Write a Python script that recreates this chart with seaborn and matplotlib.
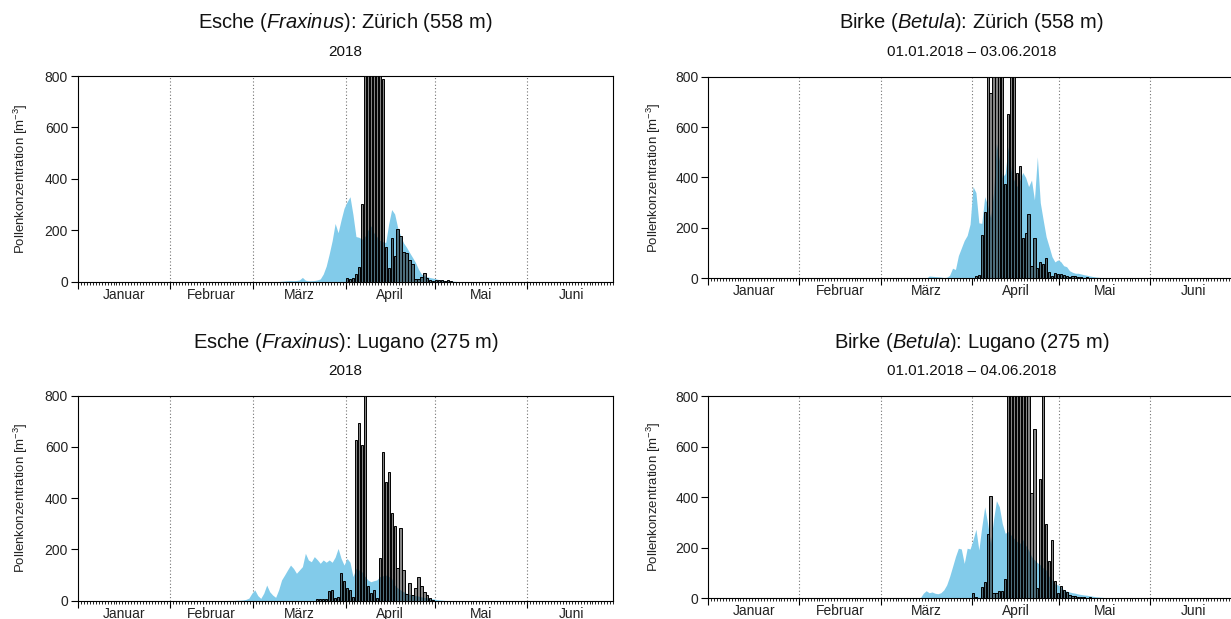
import numpy as np
import pandas as pd
import matplotlib
matplotlib.use('Agg')
import matplotlib.pyplot as plt
from matplotlib.ticker import FixedLocator, MultipleLocator, NullFormatter
import seaborn as sns

# Kalender Januar bis Juni 2018 (Tag 0 = 1. Januar)
months = ['Januar', 'Februar', 'März', 'April', 'Mai', 'Juni']
month_start = [0, 31, 59, 90, 120, 151]
month_len = [31, 28, 31, 30, 31, 30]
n_days = 180

# Esche Zürich: Messung (Balken) und Modell (blaue Fläche), Werte ab Starttag
esche_zh_obs_start = 90
esche_zh_obs = [13, 9, 13, 29, 55, 300, 1000, 1000, 1000, 1000, 1000, 1000, 787,
                135, 52, 169, 100, 204, 178, 113, 111, 85, 70, 9, 9, 16, 32, 13,
                5, 3, 6, 4, 5, 3, 4, 2]
esche_zh_mod_start = 68
esche_zh_mod = [1, 2, 3, 4, 3, 4, 6, 16, 5, 3, 3, 4, 6, 10, 29, 60, 107, 159, 226,
                190, 240, 285, 310, 330, 260, 175, 172, 165, 175, 200, 217, 190,
                175, 160, 155, 152, 224, 280, 263, 211, 178, 150, 133, 113, 94, 74,
                48, 29, 22, 18, 15, 13, 10, 7, 6, 4, 3, 2, 1]

# Birke Zürich
birke_zh_obs_start = 89
birke_zh_obs = [2, 3, 9, 13, 172, 264, 1200, 734, 1100, 1300, 1000, 900, 374, 652,
                950, 1100, 419, 445, 159, 178, 255, 49, 159, 40, 66, 57, 79, 26, 10,
                22, 17, 18, 12, 10, 5, 10, 8, 6, 4, 3, 5, 2]
birke_zh_mod_start = 75
birke_zh_mod = [9, 8, 7, 6, 5, 3, 4, 12, 40, 35, 90, 120, 150, 170, 215, 364, 340,
                220, 218, 324, 290, 240, 337, 535, 470, 400, 416, 522, 430, 390, 364,
                390, 420, 400, 364, 390, 311, 482, 300, 231, 165, 126, 86, 65, 73, 66,
                50, 46, 30, 24, 20, 20, 17, 14, 12, 9, 7, 5, 4, 3, 2]

# Esche Lugano
esche_lu_obs_start = 80
esche_lu_obs = [6, 6, 6, 6, 39, 42, 9, 16, 109, 75, 51, 42, 13, 627, 692, 607, 850,
                57, 29, 42, 9, 168, 579, 464, 503, 341, 293, 126, 282, 120, 26, 68,
                22, 48, 91, 57, 35, 22, 9, 3]
esche_lu_mod_start = 50
esche_lu_mod = [1, 1, 1, 2, 2, 3, 5, 10, 29, 42, 20, 9, 29, 61, 35, 22, 13, 42, 81,
                100, 120, 139, 126, 107, 120, 133, 185, 159, 152, 172, 160, 146, 159,
                150, 159, 150, 170, 204, 165, 139, 165, 150, 94, 126, 120, 113, 95,
                81, 74, 78, 81, 94, 97, 100, 95, 87, 61, 50, 42, 35, 29, 25, 22, 20,
                18, 15, 13, 11, 9, 7, 5, 3, 2, 1]

# Birke Lugano
birke_lu_obs_start = 89
birke_lu_obs = [0, 20, 5, 3, 43, 66, 254, 405, 22, 20, 30, 30, 75, 1000, 1000, 1000,
                1000, 1000, 1000, 1000, 1000, 415, 670, 40, 472, 1000, 293, 148, 231,
                70, 20, 50, 33, 23, 15, 10, 8, 5, 4, 6, 3, 4, 3, 2, 3, 2, 3]
birke_lu_mod_start = 72
birke_lu_mod = [2, 20, 30, 22, 25, 20, 18, 22, 33, 53, 86, 125, 165, 198, 195, 138,
                198, 195, 231, 273, 191, 283, 362, 296, 217, 310, 386, 362, 296, 257,
                264, 250, 237, 225, 217, 233, 210, 191, 165, 152, 141, 132, 120, 112,
                86, 73, 57, 53, 46, 33, 29, 25, 22, 20, 17, 15, 13, 12, 10, 8, 6, 5,
                4, 3, 2]

titles = ['Esche ($\\mathit{Fraxinus}$): Zürich (558 m)',
          'Birke ($\\mathit{Betula}$): Zürich (558 m)',
          'Esche ($\\mathit{Fraxinus}$): Lugano (275 m)',
          'Birke ($\\mathit{Betula}$): Lugano (275 m)']
subtitles = ['2018', '01.01.2018 – 03.06.2018', '2018', '01.01.2018 – 04.06.2018']

W, H = 1231, 619
# (links, oben, rechts, unten) der Achsen in Pixeln, Titelzeilen
boxes = [(77.8, 76.0, 613.3, 281.5), (708.3, 76.7, 1234.8, 278.3),
         (77.8, 395.7, 613.3, 600.7), (708.3, 396.0, 1234.8, 598.3)]
title_y = [(22, 52), (22, 52), (342, 371), (343, 371)]
ylabel_x = [30, 663, 30, 663]

panels = [
    (esche_zh_obs_start, esche_zh_obs, esche_zh_mod_start, esche_zh_mod),
    (birke_zh_obs_start, birke_zh_obs, birke_zh_mod_start, birke_zh_mod),
    (esche_lu_obs_start, esche_lu_obs, esche_lu_mod_start, esche_lu_mod),
    (birke_lu_obs_start, birke_lu_obs, birke_lu_mod_start, birke_lu_mod),
]

sns.set_theme(style='ticks')
plt.rcParams['font.family'] = ['Liberation Sans', 'DejaVu Sans']
plt.rcParams['mathtext.fontset'] = 'custom'
plt.rcParams['mathtext.rm'] = 'Liberation Sans'
plt.rcParams['mathtext.it'] = 'Liberation Sans:italic'
plt.rcParams['mathtext.default'] = 'regular'

fig = plt.figure(figsize=(W / 100, H / 100), dpi=100)

for i, (o_start, obs, m_start, mod) in enumerate(panels):
    l, t, r, b = boxes[i]
    ax = fig.add_axes([l / W, 1 - b / H, (r - l) / W, (b - t) / H])

    # Modell als Fläche
    mod_full = np.zeros(n_days + 1)
    mod_full[m_start:m_start + len(mod)] = mod
    x_mod = np.arange(n_days + 1) + 0.5
    ax.fill_between(x_mod, 0, mod_full, color='#82cbea', lw=0, zorder=1)

    # Messung als Balken
    df = pd.DataFrame({'tag': np.arange(o_start, o_start + len(obs)) + 0.5,
                       'wert': obs})
    sns.barplot(data=df, x='tag', y='wert', native_scale=True, width=0.75,
                color='0.5', saturation=1, edgecolor='black', linewidth=0.7,
                errorbar=None, ax=ax, zorder=3)
    for bar in ax.containers[0]:
        bar.set_facecolor((0.12, 0.12, 0.12, 0.55))

    for m in month_start[1:]:
        ax.axvline(m, color='0.45', ls=(0, (1, 2)), lw=0.8, zorder=0.5)

    ax.set_xlim(0, n_days)
    ax.set_ylim(0, 800)
    ax.set_yticks([0, 200, 400, 600, 800])
    ax.xaxis.set_major_locator(FixedLocator(month_start))
    ax.xaxis.set_major_formatter(NullFormatter())
    ax.xaxis.set_minor_locator(MultipleLocator(1))
    ax.tick_params(axis='x', which='major', direction='out', length=5,
                   width=0.8, color='black')
    ax.tick_params(axis='x', which='minor', direction='out', length=2.5,
                   width=0.6, color='black')
    ax.tick_params(axis='y', direction='out', length=5, width=0.8,
                   color='black', labelsize=10, pad=2, labelcolor='#222222')
    for s in ax.spines.values():
        s.set_color('black')
        s.set_linewidth(0.8)

    for name, st, ln in zip(months, month_start, month_len):
        ax.text(st + ln / 2, -0.065, name, transform=ax.get_xaxis_transform(),
                ha='center', va='center', fontsize=10, color='#222222')

    ax.set_xlabel('')
    ax.set_ylabel('Pollenkonzentration [m$^{-3}$]', fontsize=9.5, color='#222222')
    ax.yaxis.set_label_coords((ylabel_x[i] - l) / (r - l), 0.5)

    cx = (l + r) / 2
    fig.text(cx / W, 1 - title_y[i][0] / H, titles[i], ha='center', va='center',
             fontsize=14.5, color='#111111')
    fig.text(cx / W, 1 - title_y[i][1] / H, subtitles[i], ha='center', va='center',
             fontsize=11, color='#111111')

fig.savefig('out.png', dpi=100)
